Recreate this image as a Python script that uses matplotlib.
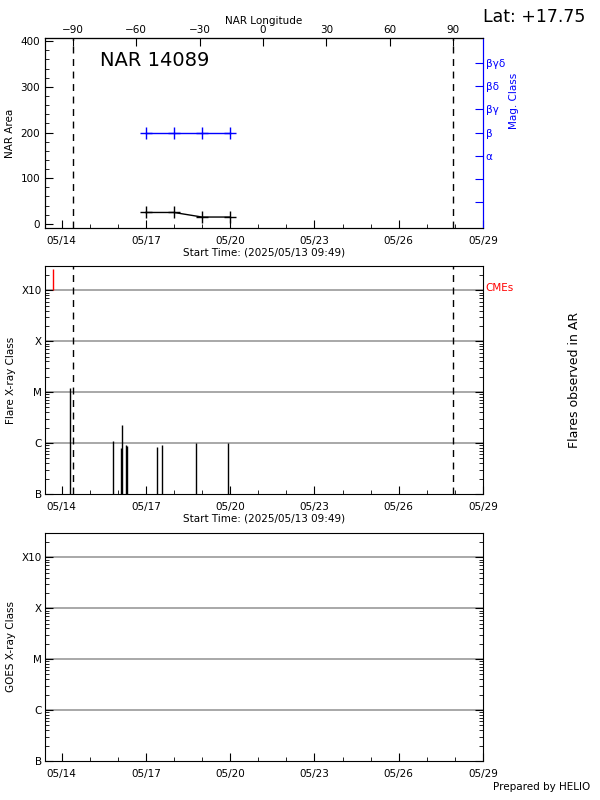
import matplotlib
matplotlib.use("Agg")
import matplotlib.pyplot as plt
import numpy as np
from matplotlib.ticker import MultipleLocator, FixedLocator, LogLocator, NullFormatter

plt.rcParams['font.family'] = 'DejaVu Sans'
plt.rcParams['font.size'] = 7.5

# days since 2025-05-13 00:00
x_start, x_end = 0.409, 16.0
date_ticks = [1, 4, 7, 10, 13, 16]
date_labels = ['05/14', '05/17', '05/20', '05/23', '05/26', '05/29']
limb_days = [1.40, 14.94]           # -90 / +90 longitude

nar_days = [4.0, 5.0, 6.0, 7.0]
nar_area = [25, 25, 15, 15]
nar_mag = ['β', 'β', 'β', 'β']
mag_labels = ['', '', 'α', 'β', 'βγ', 'βδ', 'βγδ']
mag_pos = [47, 98, 149, 200, 251, 302, 353]

flare_days = [1.30, 2.82, 3.11, 3.16, 3.29, 3.34, 4.40, 4.59, 5.77, 6.93]
flare_flux = [1.2e-5, 1.1e-6, 8.0e-7, 2.3e-6, 9.3e-7, 8.9e-7, 8.5e-7, 9.3e-7, 1.0e-6, 1.0e-6]
cme_days = [0.68]

class_ticks = [1e-7, 1e-6, 1e-5, 1e-4, 1e-3]
class_labels = ['B', 'C', 'M', 'X', 'X10']
lon_ticks = [-90, -60, -30, 0, 30, 60, 90]

fig = plt.figure(figsize=(6, 8), dpi=100)
L, W = 0.075, 0.73

def style_x(ax):
    ax.set_xlim(x_start, x_end)
    ax.set_xticks(date_ticks)
    ax.set_xticklabels(date_labels)
    ax.xaxis.set_minor_locator(MultipleLocator(1))
    ax.tick_params(which='both', direction='in', top=False)
    ax.tick_params(which='major', length=6)
    ax.tick_params(which='minor', length=3)
    ax.tick_params(axis='x', pad=6)

# ---- top panel
ax1 = fig.add_axes([L, 0.715, W, 0.2375])
style_x(ax1)
ax1.set_ylim(-9, 407)
ax1.yaxis.set_major_locator(MultipleLocator(100))
ax1.yaxis.set_minor_locator(MultipleLocator(20))
ax1.tick_params(axis='y', which='both', direction='in', right=False)
for d in limb_days:
    ax1.axvline(d, color='k', ls=(0, (5, 4)), lw=1)
ax1.plot(nar_days, nar_area, color='k', marker='+', ms=9, lw=1)
mag_vals = [mag_pos[mag_labels.index(m)] for m in nar_mag]
ax1.plot(nar_days, mag_vals, color='blue', marker='+', ms=9, lw=1)
ax1.set_ylabel('NAR Area')
ax1.text(0.125, 0.93, 'NAR 14089', transform=ax1.transAxes, fontsize=14, va='top')
ax1.set_xlabel('Start Time: (2025/05/13 09:49)', labelpad=1)
ax1.spines['right'].set_color('blue')
axr = ax1.twinx()
axr.set_ylim(ax1.get_ylim())
axr.set_yticks(mag_pos)
axr.set_yticklabels(mag_labels, color='blue')
axr.tick_params(axis='y', direction='in', length=6, color='blue', pad=2)
axr.spines['right'].set_color('blue')
axr.set_ylabel('Mag. Class', color='blue')
axr.yaxis.set_label_coords(1.06, 0.67)
s = (limb_days[1] - limb_days[0]) / 180.0
sec = ax1.secondary_xaxis('top', functions=(lambda d: -90 + (d - limb_days[0]) / s,
                                             lambda l: limb_days[0] + (l + 90) * s))
sec.set_xticks(lon_ticks)
sec.tick_params(direction='in', length=6, pad=2)
sec.set_xlabel('NAR Longitude', labelpad=1)
fig.text(0.975, 0.979, 'Lat: +17.75', ha='right', va='center', fontsize=12.5)

def style_log(ax):
    ax.set_yscale('log')
    ax.set_ylim(1e-7, 3e-3)
    ax.set_yticks(class_ticks)
    ax.set_yticklabels(class_labels)
    ax.yaxis.set_minor_locator(LogLocator(base=10, subs=np.arange(2, 10)))
    ax.yaxis.set_minor_formatter(NullFormatter())
    ax.tick_params(axis='y', which='both', direction='in', right=True, pad=2)
    for t in class_ticks[1:]:
        ax.axhline(t, color='#999999', lw=1.2, zorder=0)

# ---- middle panel
ax2 = fig.add_axes([L, 0.3825, W, 0.285])
style_x(ax2)
style_log(ax2)
for d in limb_days:
    ax2.axvline(d, color='k', ls=(0, (5, 4)), lw=1)
ax2.vlines(flare_days, 1e-7, flare_flux, color='k', lw=1)
ax2.vlines(cme_days, 1e-3, 2.6e-3, color='red', lw=1)
ax2.set_ylabel('Flare X-ray Class')
ax2.set_xlabel('Start Time: (2025/05/13 09:49)', labelpad=1)
ax2.text(1.005, 0.905, 'CMEs', color='red', transform=ax2.transAxes, va='center', fontsize=7.5)
ax2.text(1.21, 0.5, 'Flares observed in AR', rotation=90, transform=ax2.transAxes,
         va='center', ha='center', fontsize=9)

# ---- bottom panel
ax3 = fig.add_axes([L, 0.04875, W, 0.285])
style_x(ax3)
style_log(ax3)
ax3.set_ylabel('GOES X-ray Class')
fig.text(0.983, 0.016, 'Prepared by HELIO', ha='right', va='center', fontsize=7.5)

fig.savefig('out.png', dpi=100)
